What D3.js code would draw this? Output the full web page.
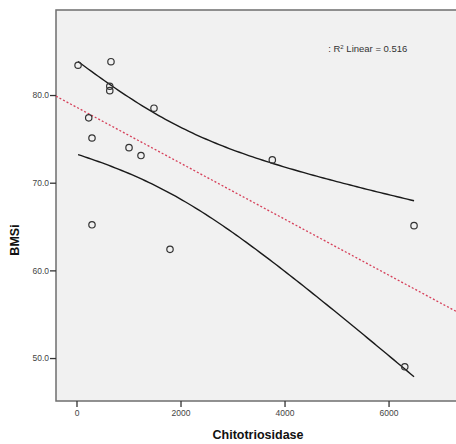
<!DOCTYPE html>
<html>
<head>
<meta charset="utf-8">
<script src="https://cdn.jsdelivr.net/npm/d3@7"></script>
<style>
  body { margin: 0; background: #fff; }
  svg text { font-family: Arial, "Liberation Sans", sans-serif; }
</style>
</head>
<body>
<div id="chart"></div>
<script>
// values
const chitotriosidase = [30, 663, 640, 640, 1490, 235, 298, 1010, 1240, 3765, 298, 1798, 6490, 6312];
const bmsi = [83.4, 83.8, 81.0, 80.5, 78.5, 77.4, 75.1, 74.0, 73.1, 72.6, 65.2, 62.4, 65.1, 49.0];
const xTicks = [0, 2000, 4000, 6000];
const yTicks = [50, 60, 70, 80];
const r2Shown = "0.516"; // as printed on the chart
const tCrit = 2.179; // t(0.975, df = 12)

const width = 456, height = 444;
const margin = { left: 56, top: 10, right: -14, bottom: 43 };

const svg = d3.select("#chart").append("svg")
    .attr("width", width)
    .attr("height", height);

const plotW = width - margin.left - margin.right;
const plotH = height - margin.top - margin.bottom;

// scales: 0 -> 76.5px, 2000 units per 104px
const x = d3.scaleLinear().domain([-394, 7566]).range([0, plotW]);
const y = d3.scaleLinear().domain([45.1, 89.7]).range([plotH, 0]);

const plot = svg.append("g")
    .attr("transform", `translate(${margin.left},${margin.top})`);

plot.append("rect")
    .attr("width", plotW)
    .attr("height", plotH)
    .attr("fill", "#f1f1f1")
    .attr("stroke", "#6e6e6e")
    .attr("stroke-width", 1.5);

// axes
const xAxis = plot.append("g")
    .attr("transform", `translate(0,${plotH})`)
    .call(d3.axisBottom(x).tickValues(xTicks).tickSize(6).tickPadding(3).tickFormat(d3.format("d")));
const yAxis = plot.append("g")
    .call(d3.axisLeft(y).tickValues(yTicks).tickSize(6).tickPadding(1).tickFormat(d3.format(".1f")));

[xAxis, yAxis].forEach(a => {
    a.select(".domain").remove();
    a.selectAll(".tick line").attr("stroke", "#333").attr("stroke-width", 1.3);
    a.selectAll(".tick text").attr("fill", "#444").attr("font-size", 8.5);
});

// least squares fit + mean confidence band, computed from the points
const n = chitotriosidase.length;
const xbar = d3.mean(chitotriosidase), ybar = d3.mean(bmsi);
let sxx = 0, sxy = 0, syy = 0;
for (let i = 0; i < n; i++) {
    const dx = chitotriosidase[i] - xbar, dy = bmsi[i] - ybar;
    sxx += dx * dx; sxy += dx * dy; syy += dy * dy;
}
const slope = sxy / sxx;
const intercept = ybar - slope * xbar;
const r2 = sxy * sxy / (sxx * syy);
const s = Math.sqrt(syy * (1 - r2) / (n - 2));
const fit = v => intercept + slope * v;
const half = v => tCrit * s * Math.sqrt(1 / n + (v - xbar) * (v - xbar) / sxx);

plot.append("line")
    .attr("x1", 0).attr("y1", y(fit(x.domain()[0])))
    .attr("x2", plotW).attr("y2", y(fit(x.domain()[1])))
    .attr("stroke", "#d6405a")
    .attr("stroke-width", 1.3)
    .attr("stroke-dasharray", "2,2");

const [xmin, xmax] = d3.extent(chitotriosidase);
const grid = d3.range(0, 101).map(i => xmin + (xmax - xmin) * i / 100);
const line = d3.line().x(d => x(d[0])).y(d => y(d[1]));

plot.append("path")
    .attr("d", line(grid.map(v => [v, fit(v) + half(v)])))
    .attr("fill", "none").attr("stroke", "#1a1a1a").attr("stroke-width", 1.4);
plot.append("path")
    .attr("d", line(grid.map(v => [v, fit(v) - half(v)])))
    .attr("fill", "none").attr("stroke", "#1a1a1a").attr("stroke-width", 1.4);

// points
plot.selectAll("circle.pt")
    .data(chitotriosidase.map((v, i) => [v, bmsi[i]]))
    .join("circle")
    .attr("class", "pt")
    .attr("cx", d => x(d[0]))
    .attr("cy", d => y(d[1]))
    .attr("r", 3.2)
    .attr("fill", "none")
    .attr("stroke", "#333")
    .attr("stroke-width", 1.2);

// fit label
const lbl = plot.append("text")
    .attr("x", x(4840))
    .attr("y", 42)
    .attr("font-size", 9.5)
    .attr("fill", "#333");
lbl.append("tspan").text(": R");
lbl.append("tspan").attr("font-size", 6).attr("dy", -3.5).text("2");
lbl.append("tspan").attr("dy", 3.5).text(" Linear = " + r2Shown);

// axis titles
svg.append("text")
    .attr("x", 258)
    .attr("y", 439)
    .attr("text-anchor", "middle")
    .attr("font-weight", "bold")
    .attr("font-size", 12.5)
    .attr("fill", "#111")
    .text("Chitotriosidase");

svg.append("text")
    .attr("transform", "translate(19,240) rotate(-90)")
    .attr("text-anchor", "middle")
    .attr("font-weight", "bold")
    .attr("font-size", 12.5)
    .attr("fill", "#111")
    .text("BMSi");
</script>
</body>
</html>
